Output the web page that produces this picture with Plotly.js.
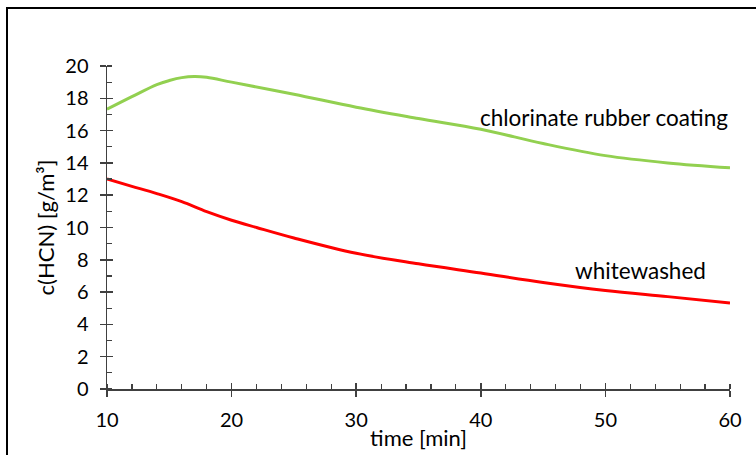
<!DOCTYPE html>
<html>
<head>
<meta charset="utf-8">
<script src="https://cdn.plot.ly/plotly-3.0.1.min.js"></script>
<style>
  html, body { margin: 0; padding: 0; background: #fff; }
  #wrap { position: relative; width: 756px; height: 455px; overflow: hidden; }
  #chart { width: 756px; height: 455px; }
  #frame { position: absolute; left: 6px; top: 7px; width: 800px; height: 500px;
           border-left: 2px solid #000; border-top: 2px solid #000; pointer-events: none; }
</style>
</head>
<body>
<div id="wrap">
  <div id="chart"></div>
  <div id="frame"></div>
</div>
<script>
// time [min]
const timeGreen = [10, 12, 14, 15, 16, 17, 18, 20, 25, 30, 35, 40, 45, 50, 55, 60];
const chlorinateRubber = [17.32, 18.1, 18.85, 19.1, 19.28, 19.35, 19.3, 19.0, 18.25, 17.45, 16.75, 16.08, 15.2, 14.45, 14.0, 13.7];

const timeRed = [10, 12, 14, 16, 18, 20, 22, 25, 30, 35, 40, 45, 50, 55, 60];
const whitewashed = [13.0, 12.55, 12.1, 11.6, 10.98, 10.45, 10.0, 9.35, 8.4, 7.75, 7.18, 6.6, 6.1, 5.72, 5.33];

const xTicks = [10, 20, 30, 40, 50, 60];
const yTicks = [0, 2, 4, 6, 8, 10, 12, 14, 16, 18, 20];

const FONT = 'Lato, Calibri, "Open Sans", sans-serif';
const AX = '#404040';

const traces = [
  { x: timeGreen, y: chlorinateRubber, type: 'scatter', mode: 'lines',
    line: { color: '#92D050', width: 3, shape: 'spline', smoothing: 1 },
    hoverinfo: 'skip', showlegend: false },
  { x: timeRed, y: whitewashed, type: 'scatter', mode: 'lines',
    line: { color: '#FF0000', width: 3, shape: 'spline', smoothing: 1 },
    hoverinfo: 'skip', showlegend: false },
  // helper trace for overlay axes (inner halves of major ticks)
  { x: [10], y: [0], xaxis: 'x2', yaxis: 'y2', type: 'scatter', mode: 'markers',
    marker: { opacity: 0 }, hoverinfo: 'skip', showlegend: false }
];

const layout = {
  width: 756, height: 455,
  margin: { l: 107, r: 26, t: 66, b: 66 },
  paper_bgcolor: '#fff', plot_bgcolor: 'rgba(0,0,0,0)',
  font: { family: FONT, size: 20, color: '#000' },
  showlegend: false,
  xaxis: {
    range: [10, 60], tickvals: xTicks, ticktext: xTicks.map(String),
    showgrid: false, zeroline: false, showline: true, linecolor: AX, linewidth: 1.5,
    ticks: 'outside', ticklen: 6, tickwidth: 1.5, tickcolor: AX,
    ticklabelstandoff: 6,
    minor: { dtick: 2, ticks: 'inside', ticklen: 5, tickwidth: 1.2, tickcolor: AX, showgrid: false },
    tickfont: { family: FONT, size: 20, color: '#000' },
    title: { text: 'time [min]', font: { family: FONT, size: 22, color: '#000' }, standoff: 1 }
  },
  yaxis: {
    range: [0, 20], tickvals: yTicks, ticktext: yTicks.map(String),
    showgrid: false, zeroline: false, showline: true, linecolor: AX, linewidth: 1.5,
    ticks: 'outside', ticklen: 6, tickwidth: 1.5, tickcolor: AX,
    ticklabelstandoff: 7,
    minor: { dtick: 1, ticks: 'inside', ticklen: 5, tickwidth: 1.2, tickcolor: AX, showgrid: false },
    tickfont: { family: FONT, size: 20, color: '#000' },
    title: { text: 'c(HCN) [g/m³]', font: { family: FONT, size: 22, color: '#000' }, standoff: 4 }
  },
  xaxis2: {
    overlaying: 'x', anchor: 'y2', range: [10, 60], tickvals: xTicks,
    showticklabels: false, showgrid: false, zeroline: false, showline: false,
    ticks: 'inside', ticklen: 6, tickwidth: 1.5, tickcolor: AX
  },
  yaxis2: {
    overlaying: 'y', anchor: 'x2', range: [0, 20], tickvals: yTicks,
    showticklabels: false, showgrid: false, zeroline: false, showline: false,
    ticks: 'inside', ticklen: 6, tickwidth: 1.5, tickcolor: AX
  },
  annotations: [
    { x: 39.76, y: 16.82, xref: 'x', yref: 'y', xanchor: 'left', yanchor: 'middle',
      text: 'chlorinate rubber coating', showarrow: false,
      font: { family: FONT, size: 22.5, color: '#000' } },
    { x: 47.4, y: 7.35, xref: 'x', yref: 'y', xanchor: 'left', yanchor: 'middle',
      text: 'whitewashed', showarrow: false,
      font: { family: FONT, size: 22.5, color: '#000' } }
  ]
};

Plotly.newPlot('chart', traces, layout, { staticPlot: true, displayModeBar: false });
</script>
</body>
</html>
